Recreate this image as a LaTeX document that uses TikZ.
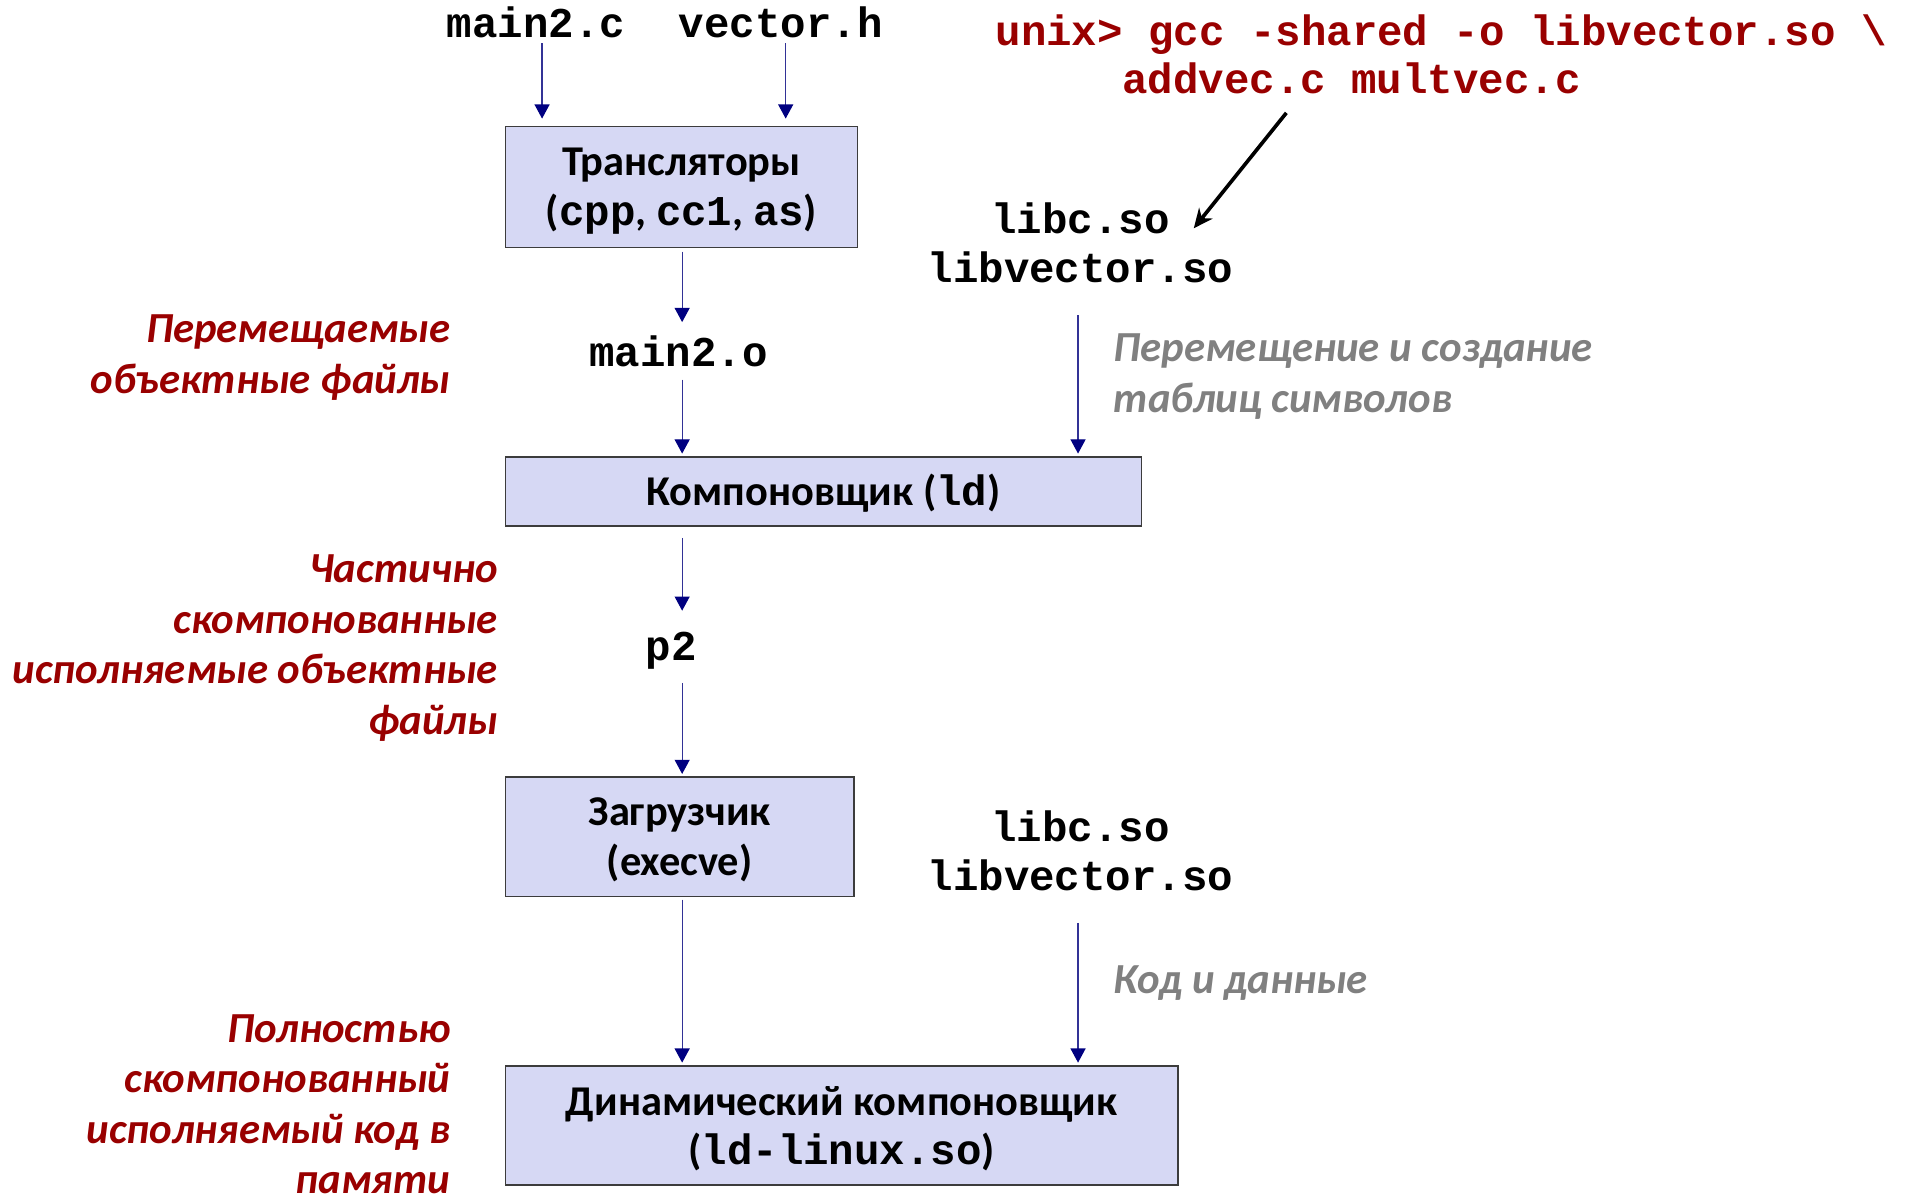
\documentclass[tikz,border=0pt]{standalone}
\usepackage{fontspec}
\setmainfont{Carlito}
\newfontfamily\monof{Liberation Mono}
\usetikzlibrary{arrows.meta,calc}
\definecolor{redt}{RGB}{153,0,0}
\definecolor{grayt}{RGB}{128,128,128}
\definecolor{boxfill}{RGB}{214,216,244}
\definecolor{boxline}{RGB}{60,60,60}
\definecolor{navy}{RGB}{0,0,128}
\definecolor{arrline}{RGB}{50,50,150}
\begin{document}
\begin{tikzpicture}[x=0.6pt,y=-0.6pt,
  lbl/.style={inner sep=0pt, anchor=base, font=\monof\bfseries\fontsize{20.9}{24}\selectfont},
  libs/.style={inner sep=0pt, anchor=base, align=center, font=\monof\bfseries\fontsize{20.9}{24}\selectfont},
  cmd/.style={inner sep=0pt, anchor=base west, text=redt, font=\monof\bfseries\fontsize{20.9}{24}\selectfont},
  box/.style={draw=boxline, fill=boxfill, line width=0.75pt, align=center, inner sep=0pt, text depth=0pt, font=\bfseries\fontsize{20.9}{24.6}\selectfont},
  rnote/.style={inner sep=0pt, anchor=base east, align=right, text=redt, font=\bfseries\itshape\fontsize{21.1}{24.9}\selectfont},
  gnote/.style={inner sep=0pt, anchor=base west, align=left, text=grayt, font=\bfseries\itshape\fontsize{21.1}{25.2}\selectfont},
  arr/.style={draw=arrline, line width=0.6pt, -{Triangle[width=7.4pt,length=7pt,color=navy]}},
  blk/.style={draw=black, line width=1.8pt, -{Stealth[width=8.5pt,length=9.5pt]}}
]
\useasboundingbox (0,0) rectangle (1568,982);

\coordinate (cA) at (445,0);
\coordinate (cB) at (645,0);
\coordinate (cC) at (560,0);
\coordinate (cD) at (885,0);

% top inputs
\node[lbl] (main2c) at (440,31) {main2.c};
\node[lbl] (vectorh) at (641,31) {vector.h};

% command
\node[cmd] (cmd1) at (817,37) {unix> gcc -shared -o libvector.so \textbackslash};
\node[cmd] (cmd2) at (921,77) {addvec.c multvec.c};

% boxes
\node[box, minimum width=173.4pt, minimum height=59.4pt] (trans) at (559.5,153.5)
  {Трансляторы\\({\monof cpp}, {\monof cc1}, {\monof as})};
\node[box, text depth=1.5pt, minimum width=313.2pt, minimum height=34.2pt] (link) at (676,403.5)
  {Компоновщик ({\monof ld})};
\node[box, minimum width=171.6pt, minimum height=58.8pt] (loader) at (558,687)
  {Загрузчик\\(execve)};
\node[box, minimum width=331.2pt, minimum height=58.8pt] (dyn) at (691,924)
  {Динамический компоновщик\\({\monof ld-linux.so})};

% intermediate labels
\node[lbl] (main2o) at (557,301) {main2.o};
\node[lbl] (p2) at (551,542) {p2};
\node[libs] (libs1) at (887,232) {libc.so\\libvector.so};
\node[libs] (libs2) at (887,731) {libc.so\\libvector.so};

% notes (base = last line)
\node[rnote] (n1) at (370,323) {Перемещаемые\\объектные файлы};
\node[rnote] (n2) at (409,603) {Частично\\скомпонованные\\исполняемые объектные\\файлы};
\node[rnote] (n3) at (370,980) {Полностью\\скомпонованный\\исполняемый код в\\памяти};
\node[gnote] (g1) at (914,339) {Перемещение и создание\\таблиц символов};
\node[gnote] (g2) at (914,816) {Код и данные};

% arrows
\draw[arr, shorten <=2.4pt, shorten >=3.6pt] (main2c.south -| cA) -- (trans.north -| cA);
\draw[arr, shorten <=2.4pt, shorten >=3.6pt] (vectorh.south -| cB) -- (trans.north -| cB);
\draw[arr, shorten <=1.8pt, shorten >=6.6pt] (trans.south -| cC) -- (main2o.north -| cC);
\draw[arr, shorten <=6pt, shorten >=1.2pt] (main2o.south -| cC) -- (link.north -| cC);
\draw[arr, shorten <=15.6pt, shorten >=1.2pt] (libs1.south -| cD) -- (link.north -| cD);
\draw[blk] ($(cmd2.south west)+(135,15)$) -- ($(libs1.north)+(93,21)$);
\draw[arr, shorten <=5.4pt, shorten >=10.2pt] (link.south -| cC) -- (p2.north -| cC);
\draw[arr, shorten <=6.6pt, shorten >=1.2pt] (p2.south -| cC) -- (loader.north -| cC);
\draw[arr, shorten <=1.2pt, shorten >=1.2pt] (loader.south -| cC) -- (dyn.north -| cC);
\draw[arr, shorten <=15.6pt, shorten >=1.2pt] (libs2.south -| cD) -- (dyn.north -| cD);
\end{tikzpicture}
\end{document}
